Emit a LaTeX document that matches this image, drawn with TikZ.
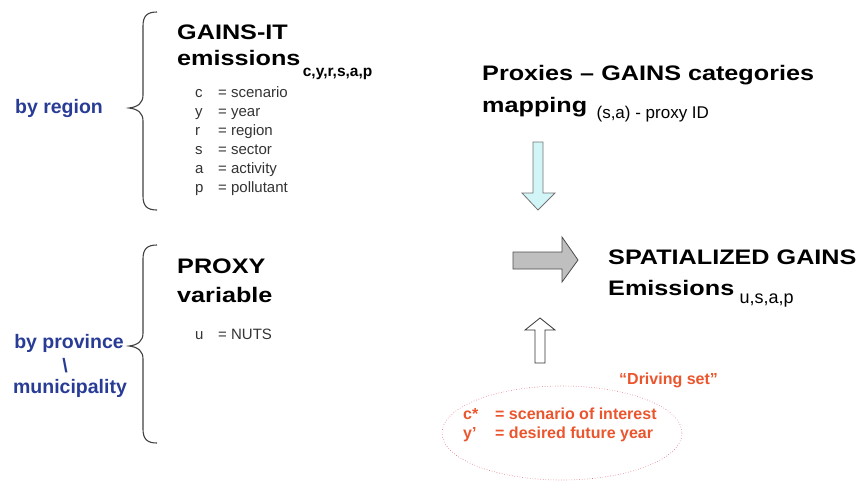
\documentclass[tikz,border=0pt]{standalone}
\usepackage{fontspec}
\setmainfont{Liberation Sans}
\newfontfamily\headfont[FakeStretch=1.2]{Liberation Sans}
\definecolor{regblue}{RGB}{40,60,150}
\definecolor{drvorange}{RGB}{235,85,45}
\definecolor{ringred}{RGB}{225,110,120}
\definecolor{mapcyan}{RGB}{210,245,248}
\begin{document}
\begin{tikzpicture}[x=1pt, y=-1pt,
  head/.style={anchor=base west, inner sep=0pt, font=\headfont\bfseries\fontsize{21}{25}\selectfont},
  idx/.style={anchor=base west, inner sep=0pt, text=black!80, font=\fontsize{15}{18}\selectfont},
  lvl/.style={anchor=base, inner sep=0pt, text=regblue, font=\bfseries\fontsize{19.5}{23}\selectfont},
  drv/.style={anchor=base west, inner sep=0pt, text=drvorange, font=\bfseries\fontsize{16}{19}\selectfont}]
\useasboundingbox (0,0) rectangle (858,483);
% braces
\foreach \t/\m/\b in {12/108/210, 245/346/443}
  \draw[line width=1.1pt, black!75] (157,\t) .. controls (147,\t) and (143,\t+4) .. (143,\t+14)
    -- (143,\m-13) .. controls (143,\m-5) and (138,\m-1) .. (129,\m)
    .. controls (138,\m+1) and (143,\m+5) .. (143,\m+13)
    -- (143,\b-14) .. controls (143,\b-4) and (147,\b) .. (157,\b);
\node[lvl] (reg) at (59,113) {by region};
\node[lvl] (prov) at (69,348) {by province};
\node[lvl] (slash) at (65,372) {\textbackslash};
\node[lvl] (muni) at (70,393) {municipality};
% GAINS-IT
\node[head] (gains) at (177,39) {GAINS-IT};
\node[head] (emis) at (177,65) {emissions};
\node[anchor=base west, inner sep=0pt, font=\bfseries\fontsize{15.5}{18}\selectfont]
  (emissub) at ([xshift=2pt, yshift=-11pt]emis.base east) {c,y,r,s,a,p};
\foreach \v/\w [count=\i] in {c/scenario, y/year, r/region, s/sector, a/activity, p/pollutant}{
  \node[idx] (var\i) at (195,78+19*\i) {\v};
  \node[idx] (def\i) at (218,78+19*\i) {= \w};
}
% proxy
\node[head] (proxy) at (177,273) {PROXY};
\node[head] (pvar) at (177,302) {variable};
\node[idx] (u) at (195,339) {u};
\node[idx] (nuts) at (218,339) {= NUTS};
% mapping
\node[head] (prx) at (482,80) {Proxies – GAINS categories};
\node[head] (map) at (482,112) {mapping};
\node[anchor=base west, inner sep=0pt, font=\fontsize{17}{20}\selectfont]
  (mapsub) at ([xshift=9pt, yshift=-6pt]map.base east) {(s,a) - proxy ID};
% result
\node[head] (spat) at (608,264) {SPATIALIZED GAINS};
\node[head] (emis2) at (608,295) {Emissions};
\node[anchor=base west, inner sep=0pt, font=\fontsize{18}{22}\selectfont]
  (spatsub) at ([xshift=5pt, yshift=-8pt]emis2.base east) {u,s,a,p};
% driving set
\node[drv] (drvset) at (619,384) {“Driving set”};
\draw[ringred, dotted, line width=0.6pt] (562,433) ellipse [x radius=120, y radius=47];
\node[drv] (cs) at (463,419) {c*};
\node[drv] (csdef) at (495,419) {= scenario of interest};
\node[drv] (yp) at (463,438) {y'};
\node[drv] (ypdef) at (495,438) {= desired future year};
% block arrows
\draw[black!55, fill=mapcyan, line width=0.8pt] (533,142) -- (543,142) -- (543,193) -- (555,193)
  -- (538,210) -- (522,193) -- (533,193) -- cycle;
\draw[black!70, fill=black!25, line width=0.8pt] (513,252) -- (562,252) -- (562,237) -- (578,260)
  -- (562,282) -- (562,269) -- (513,269) -- cycle;
\draw[black!80, fill=white, line width=0.8pt] (535,363) -- (535,330) -- (525,330) -- (540,318)
  -- (555,330) -- (545,330) -- (545,363) -- cycle;
\end{tikzpicture}
\end{document}
